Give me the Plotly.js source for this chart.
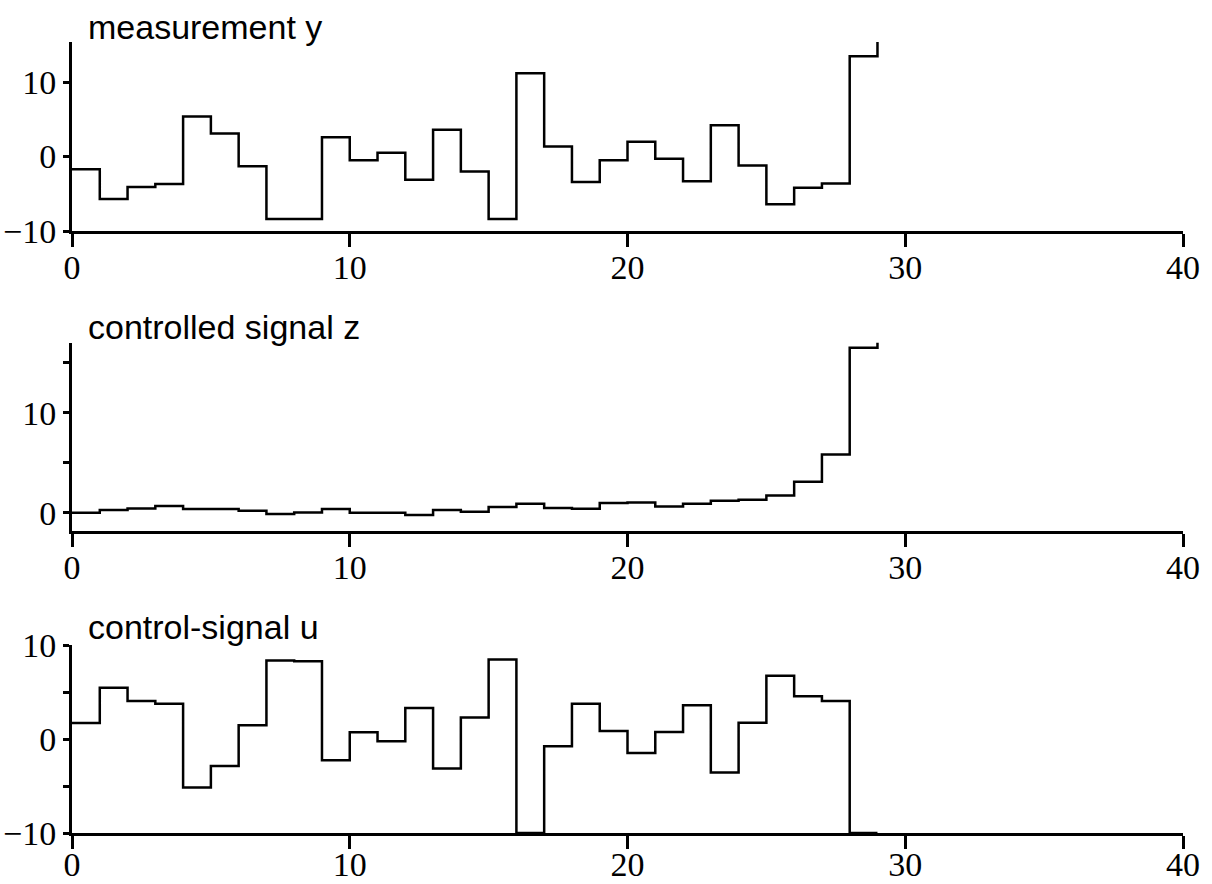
<!DOCTYPE html>
<html>
<head>
<meta charset="utf-8">
<script src="https://cdn.plot.ly/plotly-3.0.1.min.js"></script>
<style>html,body{margin:0;padding:0;background:#fff;}#chart{width:1212px;height:884px;}</style>
</head>
<body>
<div id="chart"></div>
<script>
// sample index k (each value held over [k, k+1))
const timeSteps = [0,1,2,3,4,5,6,7,8,9,10,11,12,13,14,15,16,17,18,19,20,21,22,23,24,25,26,27,28,29];
// measurement y
const measurementY = [-1.7,-5.7,-4.1,-3.7,5.4,3.1,-1.3,-8.4,-8.4,2.6,-0.5,0.5,-3.1,3.6,-2.0,-8.4,11.2,1.35,-3.4,-0.5,2.0,-0.3,-3.3,4.2,-1.2,-6.4,-4.2,-3.6,13.5,20];
// controlled signal z
const controlledZ = [0.0,0.27,0.43,0.67,0.37,0.37,0.2,-0.13,0.03,0.37,0.0,0.0,-0.23,0.27,0.1,0.57,0.9,0.47,0.4,0.97,1.03,0.63,0.9,1.2,1.3,1.73,3.1,5.83,16.5,20];
// control-signal u
const controlU = [1.7,5.45,4.03,3.75,-5.15,-2.86,1.45,8.35,8.28,-2.26,0.71,-0.25,3.29,-3.14,2.3,8.45,-10,-0.77,3.75,0.85,-1.48,0.75,3.6,-3.57,1.74,6.72,4.56,4.03,-10,-10];

const panelTitles = ["measurement y", "controlled signal z", "control-signal u"];
const xTickVals = [0,10,20,30,40];

const W = 1212, H = 884;
function fy(px){ return 1 - px / H; }

const lineStyle = {color:'#000', width:2.5, shape:'hv'};
const traces = [
  {x: timeSteps, y: measurementY, xaxis:'x', yaxis:'y', mode:'lines', line: lineStyle, hoverinfo:'skip'},
  {x: timeSteps, y: controlledZ, xaxis:'x2', yaxis:'y2', mode:'lines', line: lineStyle, hoverinfo:'skip'},
  {x: timeSteps, y: controlU, xaxis:'x3', yaxis:'y3', mode:'lines', line: lineStyle, hoverinfo:'skip'}
];

const tickFont = {family:'"Liberation Serif", "Times New Roman", serif', size:34, color:'#000'};
function xAxis(anchor, standoff){
  return {
    anchor: anchor, domain:[0,1], range:[0,40], tickvals: xTickVals,
    showgrid:false, zeroline:false, showline:true, linecolor:'#000', linewidth:3,
    ticks:'outside', ticklen:13, tickwidth:3, tickcolor:'#000',
    ticklabelstandoff: standoff,
    tickfont: tickFont, fixedrange:true
  };
}
function yAxis(anchor, domain, range, tickvals, minor){
  const a = {
    anchor: anchor, domain: domain, range: range, tickvals: tickvals,
    showgrid:false, zeroline:false, showline:true, linecolor:'#000', linewidth:3,
    ticks:'outside', ticklen:6, tickwidth:3, tickcolor:'#000',
    tickfont: tickFont, fixedrange:true
  };
  if (minor) a.minor = {tickvals: minor, ticks:'outside', ticklen:6, tickwidth:3, tickcolor:'#000', showgrid:false};
  return a;
}

const layout = {
  width: W, height: H,
  margin: {l:72, r:29, t:0, b:0},
  paper_bgcolor:'#fff', plot_bgcolor:'#fff',
  showlegend:false,
  xaxis: xAxis('y', -9),
  yaxis: yAxis('x', [fy(231), fy(42)], [-10, 15.4], [-10,0,10], null),
  xaxis2: xAxis('y2', -9),
  yaxis2: yAxis('x2', [fy(530.7), fy(342.7)], [-1.8, 17], [0,10], [5,15]),
  xaxis3: xAxis('y3', -14),
  yaxis3: yAxis('x3', [fy(833), fy(645)], [-10, 10], [-10,0,10], [-5,5]),
  annotations: [
    {text: panelTitles[0], y: fy(27)},
    {text: panelTitles[1], y: fy(327)},
    {text: panelTitles[2], y: fy(627)}
  ].map(a => Object.assign({
    xref:'paper', yref:'paper', x: (86-72)/1111, xanchor:'left', yanchor:'middle',
    showarrow:false, font:{family:'"Liberation Sans", Arial, Helvetica, sans-serif', size:34, color:'#000'}
  }, a))
};

Plotly.newPlot('chart', traces, layout, {staticPlot:true, displayModeBar:false});
</script>
</body>
</html>
